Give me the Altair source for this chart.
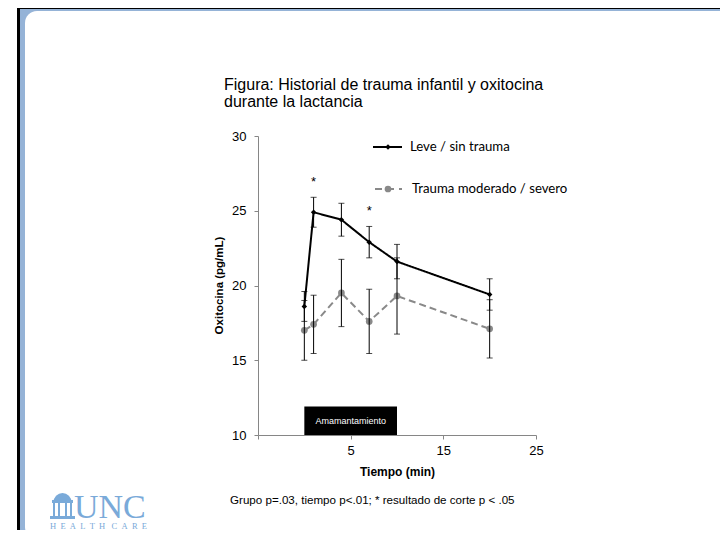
import altair as alt
import pandas as pd
import math

# ---------------- data ----------------
time_min = [0, 1, 4, 7, 10, 20]
leve = [18.6, 24.9, 24.4, 22.9, 21.6, 19.4]
leve_err = [1.0, 1.0, 1.1, 1.05, 1.15, 1.05]
trauma = [17.0, 17.4, 19.5, 17.6, 19.3, 17.1]
trauma_err = [2.0, 1.95, 2.25, 2.15, 2.55, 1.95]
star_time = [1, 7]
star_level = [26.9, 25.0]
x_ticks = [-5, 5, 15, 25]
y_ticks = [10, 15, 20, 25, 30]
box_start, box_end, box_bottom, box_top = [0], [10], [10], [11.9]
box_label = "Amamantamiento"

title_lines = ["Figura: Historial de trauma infantil y oxitocina", "durante la lactancia"]
footer = "Grupo p=.03, tiempo p<.01; * resultado de corte  p < .05"
legend_labels = ["Leve / sin trauma", "Trauma moderado / severo"]

# ---------------- styling ----------------
NARROW = "Liberation Sans Narrow, Arial Narrow, Liberation Sans, Arial, sans-serif"
SANS = "Liberation Sans, Arial, sans-serif"
LEG = "Lato, Open Sans, sans-serif"
SERIF = "Liberation Serif, DejaVu Serif, serif"
GRAY = "#898989"
AXIS = "#868686"
BLUE = "#95B3D7"
LOGO = "#7AAAD9"

W, H = 278, 299
PAD_L, PAD_T = 250, 128
TOTAL_W, TOTAL_H = 712, 522
RIGHT = TOTAL_W - PAD_L  # svg right edge in plot-relative pixels

xaxis = alt.Axis(values=x_ticks, labelExpr="datum.value == -5 ? '' : datum.label",
                 grid=False, title=None, tickSize=4, labelPadding=5,
                 labelFlush=False, labelOverlap=False,
                 domainColor=AXIS, tickColor=AXIS, labelColor="black",
                 labelFont=NARROW, labelFontSize=13, zindex=1)
yaxis = alt.Axis(values=y_ticks, grid=False, title=None, tickSize=4, labelPadding=8,
                 labelFlush=False, labelOverlap=False,
                 domainColor=AXIS, tickColor=AXIS, labelColor="black",
                 labelFont=NARROW, labelFontSize=13, zindex=1)


def X(field):
    return alt.X(field, type="quantitative",
                 scale=alt.Scale(domain=[-5, 25], nice=False, zero=False), axis=xaxis)


def Y(field):
    return alt.Y(field, type="quantitative",
                 scale=alt.Scale(domain=[10, 30], nice=False, zero=False), axis=yaxis)


one = pd.DataFrame({"a": [1]})

# ---------------- slide decoration (plot-relative pixels) ----------------
deco = []
deco.append(alt.Chart(one).mark_rect(color="black").encode(
    x=alt.value(-241), x2=alt.value(-200), y=alt.value(-128), y2=alt.value(430)))
deco.append(alt.Chart(one).mark_rect(color="black").encode(
    x=alt.value(-241), x2=alt.value(RIGHT), y=alt.value(-128), y2=alt.value(-110)))
deco.append(alt.Chart(one).mark_rect(color=BLUE).encode(
    x=alt.value(-238), x2=alt.value(RIGHT), y=alt.value(-127), y2=alt.value(409)))
deco.append(alt.Chart(one).mark_rect(color="white", cornerRadius=12).encode(
    x=alt.value(-233), x2=alt.value(RIGHT + 14), y=alt.value(-125), y2=alt.value(403)))
deco.append(alt.Chart(one).mark_rect(color="white").encode(
    x=alt.value(RIGHT - 12), x2=alt.value(RIGHT), y=alt.value(-120), y2=alt.value(400)))

# UNC logo (Old Well icon + text)
icon_rects = [(-206, -185, 364, 367), (-205, -203, 367, 380), (-200, -198, 367, 380),
              (-193, -191, 367, 380), (-188, -186, 367, 380), (-208, -183, 380, 383)]
for x1, x2, y1, y2 in icon_rects:
    deco.append(alt.Chart(one).mark_rect(color=LOGO).encode(
        x=alt.value(x1), x2=alt.value(x2), y=alt.value(y1), y2=alt.value(y2)))
deco.append(alt.Chart(one).mark_arc(color=LOGO).encode(
    x=alt.value(-195.5), y=alt.value(366), radius=alt.value(9),
    theta=alt.value(3 * math.pi / 2), theta2=alt.value(5 * math.pi / 2)))
deco.append(alt.Chart(one).mark_text(text="UNC", font=SERIF, fontSize=34, color=LOGO,
                                     align="left", baseline="alphabetic").encode(
    x=alt.value(-184), y=alt.value(382)))
deco.append(alt.Chart(one).mark_text(text="H\u2002E\u2002A\u2002L\u2002T\u2002H\u2002 C\u2002A\u2002R\u2002E",
                                     font=SERIF, fontSize=8.5, color=LOGO,
                                     align="left", baseline="alphabetic").encode(
    x=alt.value(-208), y=alt.value(393)))

# titles and footer
texts = []
texts.append(alt.Chart(one).mark_text(text=title_lines[0], font=SANS, fontSize=16, align="left",
                                      baseline="middle", color="black").encode(
    x=alt.value(-34), y=alt.value(-51)))
texts.append(alt.Chart(one).mark_text(text=title_lines[1], font=SANS, fontSize=16, align="left",
                                      baseline="middle", color="black").encode(
    x=alt.value(-34), y=alt.value(-34)))
texts.append(alt.Chart(one).mark_text(text=footer, font=NARROW, fontSize=11.6, align="left",
                                      baseline="middle", color="black").encode(
    x=alt.value(-28), y=alt.value(365)))
texts.append(alt.Chart(one).mark_text(text="Tiempo (min)", font=NARROW, fontSize=12, fontWeight="bold",
                                      align="center", baseline="middle", color="black").encode(
    x=alt.value(139.5), y=alt.value(335.5)))
texts.append(alt.Chart(one).mark_text(text="Oxitocina (pg/mL)", font=NARROW, fontSize=11.5, fontWeight="bold",
                                      align="center", baseline="middle", angle=270, color="black").encode(
    x=alt.value(-38), y=alt.value(149.5)))

# legend
leg = []
leg.append(alt.Chart(one).mark_rule(color="black", strokeWidth=2).encode(
    x=alt.value(115), x2=alt.value(144), y=alt.value(11)))
leg.append(alt.Chart(one).mark_point(shape="diamond", filled=True, color="black", size=30, opacity=1).encode(
    x=alt.value(130), y=alt.value(11)))
leg.append(alt.Chart(one).mark_text(text=legend_labels[0], font=LEG, fontSize=13.2, align="left",
                                    baseline="middle", color="black").encode(
    x=alt.value(152), y=alt.value(11)))
leg.append(alt.Chart(one).mark_rule(color=GRAY, strokeWidth=2, strokeDash=[7, 5]).encode(
    x=alt.value(117), x2=alt.value(144), y=alt.value(53)))
leg.append(alt.Chart(one).mark_point(shape="circle", filled=True, color=GRAY, size=45, opacity=1).encode(
    x=alt.value(130), y=alt.value(53)))
leg.append(alt.Chart(one).mark_text(text=legend_labels[1], font=LEG, fontSize=13.2, align="left",
                                    baseline="middle", color="black").encode(
    x=alt.value(154), y=alt.value(53)))

# ---------------- data layers ----------------
dl = pd.DataFrame({"t": time_min, "v": leve, "lo": [v - e for v, e in zip(leve, leve_err)],
                   "hi": [v + e for v, e in zip(leve, leve_err)]})
dt = pd.DataFrame({"t": time_min, "v": trauma, "lo": [v - e for v, e in zip(trauma, trauma_err)],
                   "hi": [v + e for v, e in zip(trauma, trauma_err)]})
box = pd.DataFrame({"x1": box_start, "x2": box_end, "y1": box_bottom, "y2": box_top})
stars = pd.DataFrame({"t": star_time, "v": star_level})

box_rect = alt.Chart(box).mark_rect(color="black").encode(
    x=X("x1"), x2="x2", y=Y("y1"), y2="y2")
box_text = alt.Chart(box).mark_text(text=box_label, color="white", font=SANS, fontSize=9,
                                    baseline="middle").encode(
    x=X("mid"), y=Y("ym")
).transform_calculate(mid="(datum.x1 + datum.x2) / 2", ym="(datum.y1 + datum.y2) / 2")

layers_data = []
for d, col, dash, shape, size in [(dt, GRAY, [7, 4], "circle", 45), (dl, "black", [1, 0], "diamond", 30)]:
    base = alt.Chart(d)
    line = base.mark_line(color=col, strokeWidth=2, strokeDash=dash).encode(x=X("t"), y=Y("v"))
    pts = base.mark_point(shape=shape, filled=True, color=col, size=size, opacity=1).encode(x=X("t"), y=Y("v"))
    layers_data += [line, pts]

for d in [dt, dl]:
    base = alt.Chart(d)
    rule = base.mark_rule(color="black", strokeWidth=1).encode(x=X("t"), y=Y("lo"), y2="hi")
    cap1 = base.mark_tick(color="black", orient="horizontal", size=6, thickness=1).encode(x=X("t"), y=Y("lo"))
    cap2 = base.mark_tick(color="black", orient="horizontal", size=6, thickness=1).encode(x=X("t"), y=Y("hi"))
    layers_data += [rule, cap1, cap2]

star_text = alt.Chart(stars).mark_text(text="*", font=SANS, fontSize=13, baseline="middle",
                                       color="black").encode(x=X("t"), y=Y("v"))

chart = alt.layer(
    *deco, box_rect, box_text, *layers_data, star_text, *texts, *leg
).properties(
    width=W, height=H,
    autosize=alt.AutoSizeParams(type="none"),
    padding={"left": PAD_L, "top": PAD_T, "right": TOTAL_W - PAD_L - W, "bottom": TOTAL_H - PAD_T - H},
    background="white",
).configure_view(strokeWidth=0)

chart.save("out.html", embed_options={"renderer": "svg", "actions": False})
